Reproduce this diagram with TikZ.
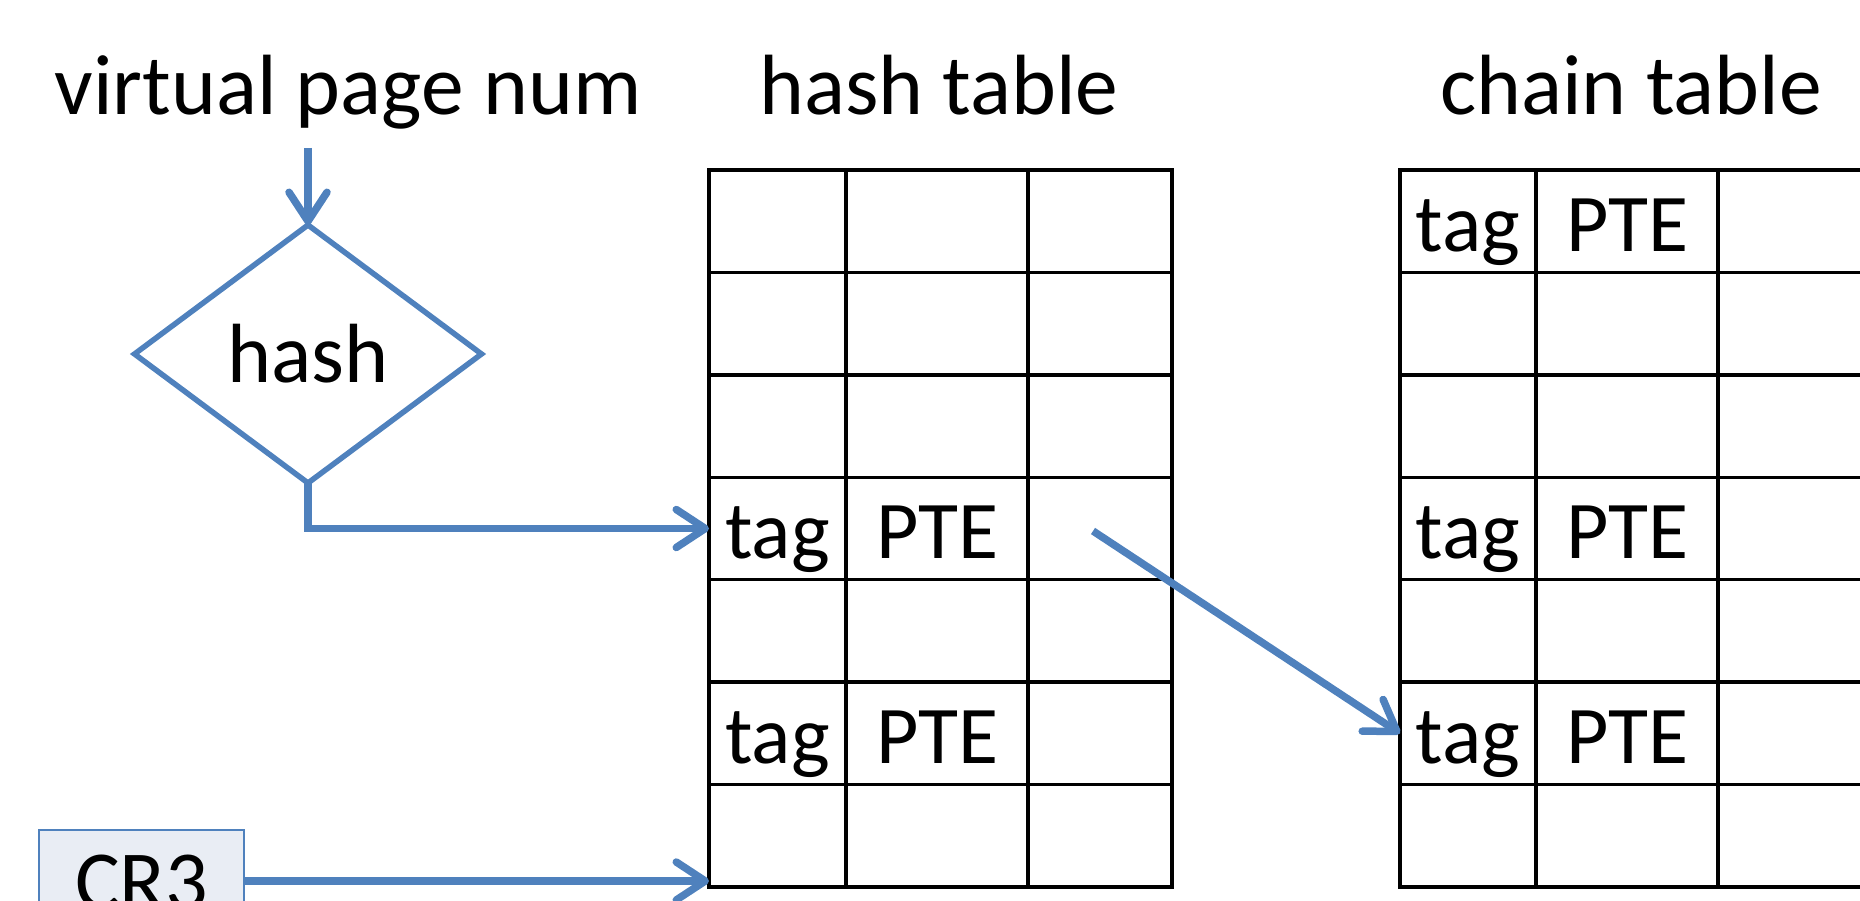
\documentclass[tikz,border=0pt]{standalone}
\usepackage{fontspec}
\setmainfont{Carlito}
\usetikzlibrary{arrows.meta,shapes.geometric,calc}
\definecolor{lnblue}{HTML}{4F81BD}
\definecolor{crfill}{HTML}{E9EDF4}
\begin{document}
\begin{tikzpicture}[x=1pt,y=-1pt,
  conn/.style={draw=lnblue, line width=7.5pt, -{Straight Barb[round,length=29pt,width=38pt]}},
  cell/.style={draw=black, line width=3.5pt, minimum width=#1, minimum height=102.43pt,
               inner sep=0pt, outer sep=0pt, anchor=north west},
  celltext/.style={inner sep=0pt, text height=60pt, text depth=0pt, font=\fontsize{82}{98}\selectfont},
  title/.style={anchor=base, inner sep=0pt, font=\fontsize{85.5}{100}\selectfont},
]
\useasboundingbox (0,0) rectangle (1860,901);
\clip (0,0) rectangle (1860,901);

% hash table
\foreach \c/\x/\w in {1/709/137pt, 2/846/182pt, 3/1028/144pt}
  \foreach \r in {1,...,7}
    \node[cell=\w] (ht-\r-\c) at (\x, {170+(\r-1)*102.43}) {};
% chain table
\foreach \c/\x/\w in {1/1400/136pt, 2/1536/182pt, 3/1718/144pt}
  \foreach \r in {1,...,7}
    \node[cell=\w] (ct-\r-\c) at (\x, {170+(\r-1)*102.43}) {};

% cell texts
\node[celltext] (ht-tag4) at (ht-4-1.center) {tag};
\node[celltext] (ht-pte4) at (ht-4-2.center) {PTE};
\node[celltext] (ht-tag6) at (ht-6-1.center) {tag};
\node[celltext] (ht-pte6) at (ht-6-2.center) {PTE};
\node[celltext] (ct-tag1) at (ct-1-1.center) {tag};
\node[celltext] (ct-pte1) at (ct-1-2.center) {PTE};
\node[celltext] (ct-tag4) at (ct-4-1.center) {tag};
\node[celltext] (ct-pte4) at (ct-4-2.center) {PTE};
\node[celltext] (ct-tag6) at (ct-6-1.center) {tag};
\node[celltext] (ct-pte6) at (ct-6-2.center) {PTE};

% titles
\node[title] (vpn) at (348,115) {virtual page num};
\node[title] (htt) at (939,115) {hash table};
\node[title] (ctt) at (1631,115) {chain table};

% hash diamond
\node[diamond, draw=lnblue, line width=5.5pt, minimum width=347pt, minimum height=258pt,
      inner sep=0pt, outer sep=0pt, font=\fontsize{84}{98}\selectfont] (hashd) at (308,354) {hash};

% CR3 box
\node[draw=lnblue, line width=2.5pt, fill=crfill, anchor=north, outer sep=0pt,
      minimum width=205pt, inner xsep=0pt, inner ysep=19pt, text height=60pt, text depth=50pt,
      font=\fontsize{84}{98}\selectfont] (cr3) at (141.5,830) {CR3};

% connectors
\coordinate (vpnout) at (308,148);
\draw[conn] (vpnout) -- (hashd.north);
\draw[conn] (hashd.south) |- (ht-4-1.west);
\coordinate (cr3y) at (0,881);
\draw[conn] (cr3.east |- cr3y) -- (ht-7-1.west |- cr3y);
\coordinate (pteout) at (1093,531);
\draw[conn] (pteout) -- (ct-6-1.west);
\end{tikzpicture}
\end{document}
